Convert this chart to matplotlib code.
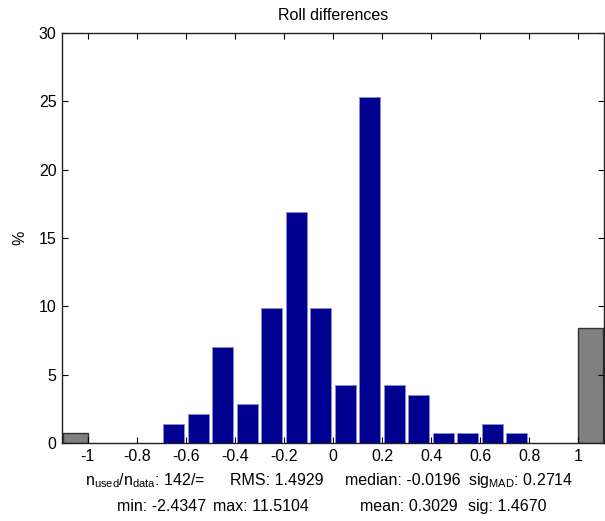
import numpy as np
import matplotlib
matplotlib.use('Agg')
import matplotlib.pyplot as plt

# histogram of roll differences, n = 142, bins of 0.1
bin_centers = [-0.65, -0.55, -0.45, -0.35, -0.25, -0.15, -0.05,
               0.05, 0.15, 0.25, 0.35, 0.45, 0.55, 0.65, 0.75]
percent = [1.41, 2.11, 7.04, 2.82, 9.86, 16.90, 9.86,
           4.23, 25.35, 4.23, 3.52, 0.70, 0.70, 1.41, 0.70]
# out-of-range bins (below -1 / above 1)
outlier_centers = [-1.05, 1.05]
outlier_percent = [0.70, 8.45]

xticks = [-1, -0.8, -0.6, -0.4, -0.2, 0, 0.2, 0.4, 0.6, 0.8, 1]
xticklabels = ['-1', '-0.8', '-0.6', '-0.4', '-0.2', '0', '0.2', '0.4', '0.6', '0.8', '1']
yticks = [0, 5, 10, 15, 20, 25, 30]

FS = 11.5
plt.rcParams['font.family'] = ['Liberation Sans', 'DejaVu Sans']
plt.rcParams['mathtext.fontset'] = 'custom'
plt.rcParams['mathtext.rm'] = 'Liberation Sans'
plt.rcParams['font.size'] = FS

W, H = 605, 521
fig = plt.figure(figsize=(W / 100, H / 100), dpi=100)
ax = fig.add_axes([62 / W, (H - 443) / H, 542 / W, 410 / H])

ax.bar(bin_centers, percent, width=0.086, color='#000090',
       edgecolor='#8c8cd0', linewidth=0.7, zorder=1)
ax.bar(outlier_centers, outlier_percent, width=0.1, color='#808080',
       edgecolor='#333333', linewidth=1.0, zorder=1)

ax.set_xlim(-1.105, 1.105)
ax.set_ylim(0, 30)
ax.set_xticks(xticks)
ax.set_xticklabels(xticklabels)
ax.set_yticks(yticks)
ax.tick_params(direction='in', length=4, width=0.8, top=True, right=True,
               labelsize=FS, colors='black', pad=4)
for s in ax.spines.values():
    s.set_linewidth(1.0)
    s.set_color('#222222')

ax.set_title('Roll differences', fontsize=FS, pad=9)
ax.set_ylabel('%', fontsize=FS, labelpad=8)


def ptext(x, y, s):
    fig.text(x / W, 1 - y / H, s, ha='left', va='baseline', fontsize=FS)


ptext(85, 485, r'n$_{\rm used}$/n$_{\rm data}$: 142/=')
ptext(230, 485, 'RMS: 1.4929')
ptext(345, 485, 'median: -0.0196')
ptext(468, 485, r'sig$_{\rm MAD}$: 0.2714')
ptext(117, 511, 'min: -2.4347')
ptext(213, 511, 'max: 11.5104')
ptext(360, 511, 'mean: 0.3029')
ptext(468, 511, 'sig: 1.4670')

fig.savefig('out.png', dpi=100)
